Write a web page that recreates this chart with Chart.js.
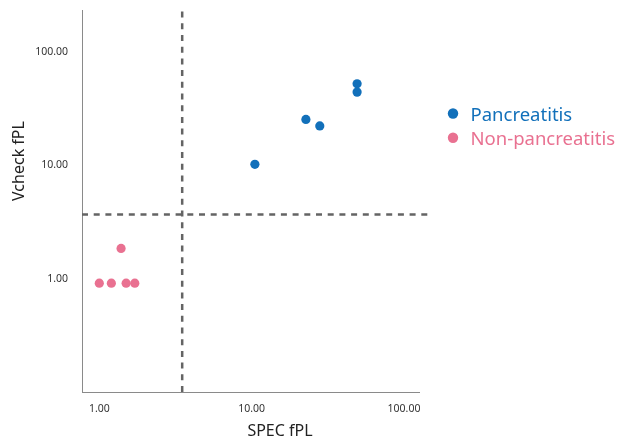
<!DOCTYPE html>
<html>
<head>
<meta charset="utf-8">
<script src="https://cdn.jsdelivr.net/npm/chart.js@4"></script>
<style>
  html, body { margin: 0; padding: 0; background: #fff; }
</style>
</head>
<body>
<canvas id="myChart" width="619" height="443"></canvas>
<script>
const seriesNames = ["Pancreatitis", "Non-pancreatitis"];
const pancreatitisX = [10.5, 22.7, 28.0, 49.2, 49.2];
const pancreatitisY = [10.2, 25.3, 22.2, 52.0, 44.0];
const nonPancreatitisX = [1.39, 1.0, 1.2, 1.5, 1.71];
const nonPancreatitisY = [1.86, 0.92, 0.92, 0.92, 0.92];
const cutoffX = 3.5;
const cutoffY = 3.7;
const tickValues = [1, 10, 100];
const xRange = [0.77, 125.4];
const yRange = [0.1016, 232];
const xTitle = "SPEC fPL";
const yTitle = "Vcheck fPL";

const blue = "rgb(18, 112, 186)";
const pink = "rgb(233, 113, 145)";
const dashGrey = "rgb(100, 100, 100)";
const font = "'Noto Sans', 'DejaVu Sans', sans-serif";

const toPoints = (xs, ys) => xs.map((x, i) => ({ x: x, y: ys[i] }));

// axis titles + legend drawn by hand so they sit where the reference has them
const extras = {
  id: "extras",
  afterDraw(chart) {
    const { ctx } = chart;
    ctx.save();
    ctx.fillStyle = "#222";
    ctx.font = "16px " + font;
    ctx.textAlign = "center";
    ctx.textBaseline = "alphabetic";
    ctx.fillText(xTitle, 280, 435.5);

    ctx.save();
    ctx.translate(23.5, 161);
    ctx.rotate(-Math.PI / 2);
    ctx.fillText(yTitle, 0, 0);
    ctx.restore();

    const colors = [blue, pink];
    const rows = [113.5, 137.7];
    ctx.font = "18.5px " + font;
    ctx.textAlign = "left";
    seriesNames.forEach((name, i) => {
      ctx.fillStyle = colors[i];
      ctx.beginPath();
      ctx.arc(453, rows[i], 5.2, 0, Math.PI * 2);
      ctx.fill();
      ctx.fillText(name, 470.5, rows[i] + 7);
    });
    ctx.restore();
  },
};

new Chart(document.getElementById("myChart"), {
  type: "scatter",
  data: {
    datasets: [
      {
        label: seriesNames[0],
        data: toPoints(pancreatitisX, pancreatitisY),
        backgroundColor: blue,
        borderWidth: 0,
        pointRadius: 4.6,
      },
      {
        label: seriesNames[1],
        data: toPoints(nonPancreatitisX, nonPancreatitisY),
        backgroundColor: pink,
        borderWidth: 0,
        pointRadius: 4.6,
      },
      {
        label: "cutoff x",
        data: [{ x: cutoffX, y: yRange[0] }, { x: cutoffX, y: yRange[1] }],
        showLine: true,
        pointRadius: 0,
        borderColor: dashGrey,
        borderWidth: 2.5,
        borderDash: [6, 5.7],
      },
      {
        label: "cutoff y",
        data: [{ x: xRange[0], y: cutoffY }, { x: 143, y: cutoffY }],
        showLine: true,
        pointRadius: 0,
        borderColor: dashGrey,
        borderWidth: 2.5,
        borderDash: [6, 5.7],
        clip: false,
      },
    ],
  },
  options: {
    responsive: false,
    animation: false,
    layout: {
      padding: { left: 0, top: 10, right: 200, bottom: 0 },
    },
    scales: {
      x: {
        type: "logarithmic",
        min: xRange[0],
        max: xRange[1],
        afterBuildTicks: (scale) => {
          scale.ticks = tickValues.map((v) => ({ value: v }));
        },
        afterFit: (scale) => {
          scale.height = 51;
          scale.paddingLeft = 0;
          scale.paddingRight = 0;
        },
        grid: { display: false, drawTicks: false },
        border: { display: true, color: "rgb(138, 138, 138)", width: 1 },
        ticks: {
          autoSkip: false,
          maxRotation: 0,
          padding: 11,
          color: "#333",
          font: { family: font, size: 10.5 },
          callback: (v) => Number(v).toFixed(2),
        },
      },
      y: {
        type: "logarithmic",
        min: yRange[0],
        max: yRange[1],
        afterBuildTicks: (scale) => {
          scale.ticks = tickValues.map((v) => ({ value: v }));
        },
        afterFit: (scale) => {
          scale.width = 82;
          scale.paddingTop = 0;
          scale.paddingBottom = 0;
        },
        grid: { display: false, drawTicks: false },
        border: { display: true, color: "rgb(138, 138, 138)", width: 1 },
        ticks: {
          autoSkip: false,
          padding: 14,
          color: "#333",
          font: { family: font, size: 10.5 },
          callback: (v) => Number(v).toFixed(2),
        },
      },
    },
    plugins: {
      legend: { display: false },
      tooltip: { enabled: false },
    },
  },
  plugins: [extras],
});
</script>
</body>
</html>
